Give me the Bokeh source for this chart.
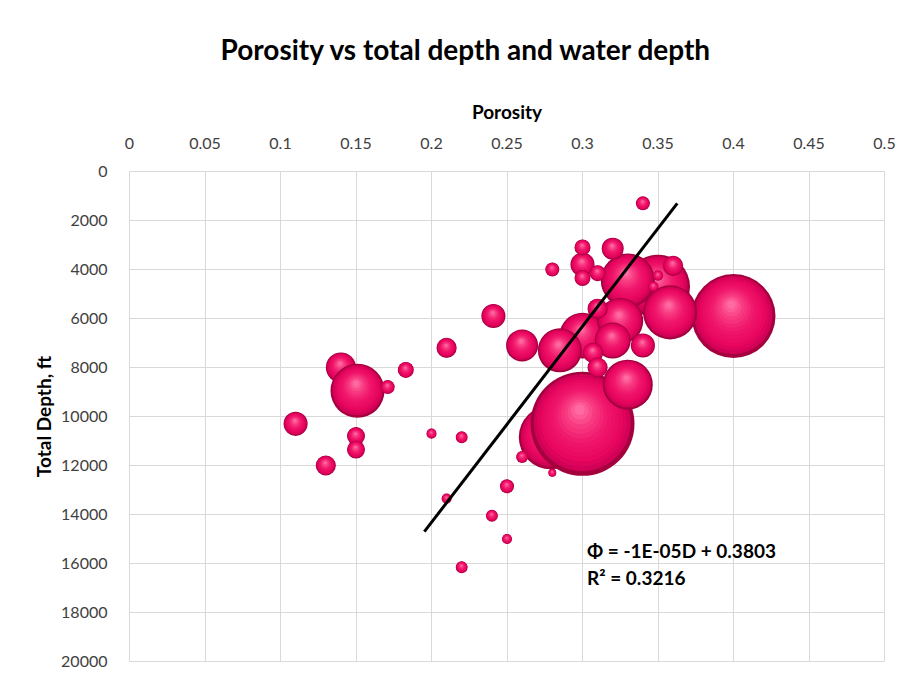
import numpy as np
from bokeh.plotting import figure
from bokeh.models import Range1d, FixedTicker, ColumnDataSource, Label
from bokeh.embed import file_html
from bokeh.resources import INLINE

# ---- data, in drawing order ----
porosity = [0.279, 0.30, 0.40, 0.35, 0.358, 0.33, 0.14, 0.151, 0.33, 0.30,
            0.285, 0.325, 0.32, 0.26, 0.30, 0.34, 0.241, 0.11, 0.32, 0.36,
            0.31, 0.307, 0.21, 0.13, 0.31, 0.15, 0.15, 0.30, 0.31, 0.30,
            0.183, 0.34, 0.28, 0.171, 0.25, 0.26, 0.22, 0.24, 0.22, 0.35,
            0.347, 0.20, 0.21, 0.25, 0.28]
total_depth = [10850, 10300, 5900, 4700, 5750, 4450, 8000, 8950, 8700, 6700,
               7300, 6100, 6900, 7100, 3800, 7100, 5900, 10300, 3150, 3850,
               5600, 7400, 7200, 12000, 8000, 10800, 11350, 3100, 4150, 4350,
               8100, 1300, 4000, 8800, 12850, 11650, 10850, 14050, 16150, 4250,
               4700, 10700, 13350, 15000, 12300]
water_depth = [3030, 8000, 5220, 3030, 2160, 2160, 670, 2160, 1850, 1560,
               1430, 1560, 960, 760, 430, 430, 430, 430, 360, 300,
               300, 300, 300, 300, 300, 240, 240, 190, 190, 190,
               190, 145, 145, 145, 145, 105, 105, 105, 105, 75,
               75, 75, 75, 75, 47]

x_ticks = [0, 0.05, 0.1, 0.15, 0.2, 0.25, 0.3, 0.35, 0.4, 0.45, 0.5]
x_tick_labels = ["0", "0.05", "0.1", "0.15", "0.2", "0.25", "0.3", "0.35", "0.4", "0.45", "0.5"]
y_ticks = [0, 2000, 4000, 6000, 8000, 10000, 12000, 14000, 16000, 18000, 20000]

trend_slope = -1.25e-5
trend_intercept = 0.379
trend_depth = [1300, 14700]

eq_text = "Φ = -1E-05D + 0.3803"
r2_text = "R² = 0.3216"
title_text = "Porosity vs total depth and water depth"

# ---- layout constants ----
FW, FH = 755, 490
XMAX, YMAX = 0.5, 20000
px_x = FW / XMAX
px_y = FH / YMAX
R_MAX = 52.0
FONT = "Lato"

p = figure(frame_width=FW, frame_height=FH,
           x_range=Range1d(0, XMAX), y_range=Range1d(YMAX, 0),
           x_axis_location="above", output_backend="svg",
           toolbar_location=None,
           min_border_left=129, min_border_right=25,
           min_border_top=171, min_border_bottom=22)
p.background_fill_color = "white"
p.border_fill_color = "white"
p.outline_line_color = "#D9D9D9"

# title
p.title.text = title_text
p.title.align = "left"
p.title.offset = 91
p.title.vertical_align = "top"
p.title.text_font = FONT
p.title.text_font_size = "28px"
p.title.text_font_style = "bold"
p.title.text_color = "#000000"
p.title.standoff = 58

# axes
for ax in (p.xaxis[0], p.yaxis[0]):
    ax.axis_line_color = None
    ax.major_tick_line_color = None
    ax.minor_tick_line_color = None
    ax.major_label_text_font = FONT
    ax.major_label_text_font_size = "16px"
    ax.major_label_text_color = "#404040"
    ax.axis_label_text_font = FONT
    ax.axis_label_text_font_size = "19px"
    ax.axis_label_text_font_style = "bold"
    ax.axis_label_text_color = "#000000"
    ax.major_label_standoff = 17

p.xaxis[0].ticker = FixedTicker(ticks=x_ticks)
p.xaxis[0].major_label_overrides = dict(zip(x_ticks, x_tick_labels))
p.xaxis[0].axis_label = "Porosity"
p.xaxis[0].axis_label_standoff = 12
p.yaxis[0].ticker = FixedTicker(ticks=y_ticks)
p.yaxis[0].major_label_standoff = 16
p.yaxis[0].axis_label = "Total Depth, ft"
p.yaxis[0].axis_label_standoff = 3

p.xgrid.ticker = FixedTicker(ticks=x_ticks)
p.ygrid.ticker = FixedTicker(ticks=y_ticks)
p.xgrid.grid_line_color = "#D9D9D9"
p.ygrid.grid_line_color = "#D9D9D9"

# ---- bubbles with layered shading to mimic 3-D spheres ----
def hex2rgb(h):
    return np.array([int(h[i:i + 2], 16) for i in (1, 3, 5)], dtype=float)

stops_f = [1.0, 0.93, 0.80, 0.55, 0.30, 0.10]
stops_c = [hex2rgb(c) for c in ["#A5003E", "#D20057", "#E8065F", "#F0166B", "#F83C82", "#FF6AA2"]]
n_layers = 14
fracs = np.linspace(1.0, 0.1, n_layers)
layers = []
for f in fracs:
    rgb = np.array([np.interp(-f, [-s for s in stops_f], [c[k] for c in stops_c]) for k in range(3)])
    col = "#%02x%02x%02x" % tuple(int(round(v)) for v in rgb)
    layers.append((f, -0.06 * (1 - f), 0.30 * (1 - f), col))

wd = np.array(water_depth, dtype=float)
radius = R_MAX * np.sqrt(wd / wd.max())
bx, by, bs, bc = [], [], [], []
for i in range(len(porosity)):
    r = radius[i]
    for frac, fx, fy, col in layers:
        bx.append(porosity[i] + fx * r / px_x)
        by.append(total_depth[i] - fy * r / px_y)
        bs.append(2 * r * frac)
        bc.append(col)
src = ColumnDataSource(dict(x=bx, y=by, size=bs, color=bc))
p.scatter("x", "y", size="size", fill_color="color", line_color=None, source=src)

# ---- trendline ----
trend_poro = [trend_intercept + trend_slope * d for d in trend_depth]
p.line(trend_poro, trend_depth, line_color="black", line_width=3)

# ---- equation labels ----
p.add_layout(Label(x=0.303, y=15470, text=eq_text, text_font=FONT,
                   text_font_size="19px", text_font_style="bold",
                   text_baseline="middle", text_color="black"))
p.add_layout(Label(x=0.303, y=16570, text=r2_text, text_font=FONT,
                   text_font_size="19px", text_font_style="bold",
                   text_baseline="middle", text_color="black"))

open("out.html", "w").write(file_html(p, INLINE))
